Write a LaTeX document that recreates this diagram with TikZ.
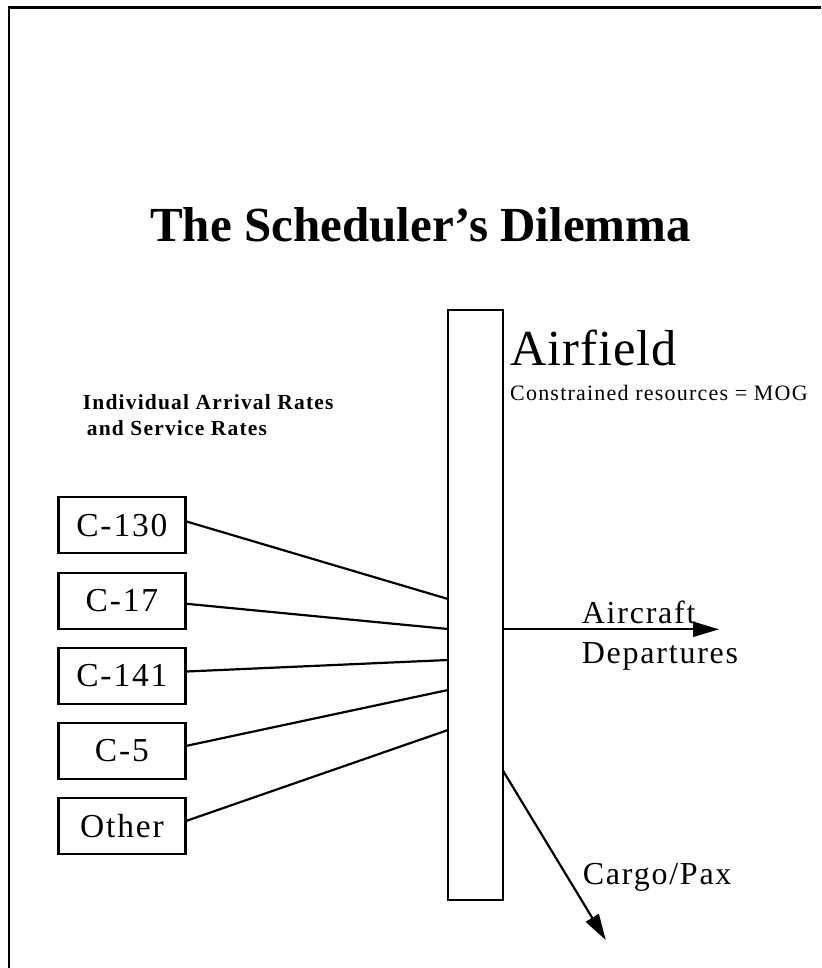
\documentclass[tikz,border=0pt]{standalone}
\usepackage{fontspec}
\setmainfont{Liberation Serif}
\newfontfamily\lsfont[LetterSpace=5.5]{Liberation Serif}
\newfontfamily\lsafont[LetterSpace=2]{Liberation Serif}
\usetikzlibrary{arrows.meta}
\begin{document}
\begin{tikzpicture}[x=1pt,y=-1pt,
  frameline/.style={line width=2.3pt},
  plane/.style={draw, line width=2.3pt, minimum width=127pt, minimum height=56pt,
    inner sep=0pt, font=\lsfont\fontsize{33.5}{40}\selectfont},
  barbox/.style={draw, line width=2.3pt, minimum width=55pt, minimum height=590pt, inner sep=0pt},
  lbl/.style={inner sep=0pt, anchor=base west},
  link/.style={line width=2.2pt},
  outarrow/.style={line width=2.2pt, -{Triangle[length=26pt,width=15pt]}}]
\useasboundingbox (0,0) rectangle (821,968);
\draw[frameline] (9,968) -- (9,7.5) -- (821,7.5);

\node[lbl, font=\bfseries\fontsize{49}{58}\selectfont] (title) at (150,242) {The Scheduler’s Dilemma};

\node[lbl, font=\lsfont\bfseries\fontsize{21.5}{26}\selectfont] (rates1) at (82.7,409.3) {Individual Arrival Rates};
\node[lbl, font=\lsfont\bfseries\fontsize{21.5}{26}\selectfont] (rates2) at (86.7,435) {and Service Rates};

\node[barbox] (bar) at (475.5,605) {};

\node[lbl, font=\lsafont\fontsize{50.5}{60}\selectfont] (airfield) at (510,365) {Airfield};
\node[lbl, font=\lsfont\fontsize{22}{26}\selectfont] (mog) at (510,400.7) {Constrained resources = MOG};

\node[plane] (c130) at (121.9,525.3) {C-130};
\node[plane] (c17) at (121.9,600.8) {C-17};
\node[plane] (c141) at (121.9,675.8) {C-141};
\node[plane] (c5) at (121.9,750.8) {C-5};
\node[plane] (other) at (121.9,826.3) {Other};

\coordinate (e1) at (448,599);
\coordinate (e2) at (448,629);
\coordinate (e3) at (448,660);
\coordinate (e4) at (448,690);
\coordinate (e5) at (448,730);

\draw[link] ([yshift=3.8pt]c130.east) -- (e1);
\draw[link] ([yshift=-3pt]c17.east) -- (e2);
\draw[link] ([yshift=4.3pt]c141.east) -- (e3);
\draw[link] ([yshift=5pt]c5.east) -- (e4);
\draw[link] ([yshift=5.5pt]other.east) -- (e5);

\coordinate (d1) at (503,629.3);
\coordinate (d2) at (719,629.3);
\draw[outarrow] (d1) -- (d2);
\coordinate (g1) at (503,770.7);
\coordinate (g2) at (605.7,940);
\draw[outarrow] (g1) -- (g2);

\node[lbl, font=\lsfont\fontsize{32}{38}\selectfont] (aircraft) at (581.7,623.3) {Aircraft};
\node[lbl, font=\lsfont\fontsize{32}{38}\selectfont] (departures) at (581.7,663.3) {Departures};
\node[lbl, font=\lsfont\fontsize{32}{38}\selectfont] (cargo) at (582.7,884.3) {Cargo/Pax};
\end{tikzpicture}
\end{document}
